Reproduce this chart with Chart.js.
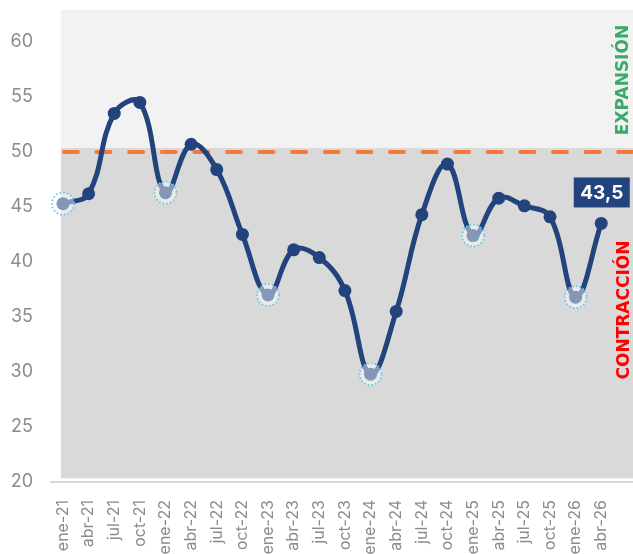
<!DOCTYPE html>
<html>
<head>
<meta charset="utf-8">
<script src="https://cdn.jsdelivr.net/npm/chart.js@4.4.0/dist/chart.umd.min.js"></script>
<style>
  html, body { margin: 0; padding: 0; background: #fff; }
  #wrap { width: 633px; height: 554px; position: relative; overflow: hidden; }
</style>
</head>
<body>
<div id="wrap"><canvas id="pmiChart"></canvas></div>
<script>
// Quarterly index values
const labels = ['ene-21','abr-21','jul-21','oct-21','ene-22','abr-22','jul-22','oct-22',
  'ene-23','abr-23','jul-23','oct-23','ene-24','abr-24','jul-24','oct-24',
  'ene-25','abr-25','jul-25','oct-25','ene-26','abr-26'];
const values = [45.3, 46.2, 53.5, 54.5, 46.3, 50.7, 48.4, 42.5,
  37.0, 41.1, 40.4, 37.4, 29.8, 35.5, 44.3, 48.9,
  42.4, 45.8, 45.1, 44.1, 36.8, 43.5];
const highlighted = ['ene-21','ene-22','ene-23','ene-24','ene-25','ene-26'];
const yTicks = [20, 25, 30, 35, 40, 45, 50, 55, 60];
const threshold = 50;

const NAVY = '#22437c';
const FONT = 'Inter, "Noto Sans", sans-serif';

// Background bands, threshold line, highlight rings, last-value tag, side texts
const decorPlugin = {
  id: 'decor',
  beforeDatasetsDraw(chart) {
    const { ctx, chartArea, scales: { x, y } } = chart;
    const left = x.getPixelForValue(-0.08);
    const right = chart.width;
    const split = y.getPixelForValue(50.36);
    const bottom = y.getPixelForValue(20.34);
    ctx.save();
    ctx.fillStyle = '#f2f2f2';
    ctx.fillRect(left, chartArea.top, right - left, split - chartArea.top);
    ctx.fillStyle = '#d9d9d9';
    ctx.fillRect(left, split, right - left, bottom - split);

    // axis line continues to the edge
    ctx.fillRect(chartArea.right - 1, chartArea.bottom - 1, right - chartArea.right + 1, 2);

    // dashed 50 line
    const ty = y.getPixelForValue(threshold);
    ctx.strokeStyle = '#f47a3a';
    ctx.lineWidth = 4;
    ctx.lineCap = 'round';
    ctx.setLineDash([14, 18.6]);
    ctx.beginPath();
    ctx.moveTo(left + 3, ty);
    ctx.lineTo(right, ty);
    ctx.stroke();
    ctx.restore();
  },
  afterDatasetsDraw(chart) {
    const { ctx } = chart;
    const meta = chart.getDatasetMeta(0);
    ctx.save();
    // rings on January points
    meta.data.forEach((pt, i) => {
      if (!highlighted.includes(labels[i])) return;
      ctx.beginPath();
      ctx.arc(pt.x, pt.y, 11, 0, Math.PI * 2);
      ctx.fillStyle = 'rgba(255,255,255,0.45)';
      ctx.fill();
      ctx.setLineDash([1.5, 2.2]);
      ctx.lineWidth = 1.8;
      ctx.strokeStyle = '#5bc8e6';
      ctx.stroke();
    });
    ctx.setLineDash([]);

    // last value tag
    const last = meta.data[meta.data.length - 1];
    const txt = values[values.length - 1].toFixed(1).replace('.', ',');
    const bw = 56, bh = 30;
    const bx = last.x - bw / 2 + 0.5, by = last.y - 46;
    ctx.fillStyle = NAVY;
    ctx.fillRect(bx, by, bw, bh);
    ctx.fillStyle = '#fff';
    ctx.font = 'bold 19px ' + FONT;
    ctx.textAlign = 'center';
    ctx.textBaseline = 'middle';
    ctx.fillText(txt, bx + bw / 2, by + bh / 2 + 1);

    // side labels
    ctx.font = 'bold 17px "DejaVu Sans", sans-serif';
    ctx.translate(624, 80);
    ctx.rotate(-Math.PI / 2);
    ctx.fillStyle = '#3aaa6b';
    ctx.fillText('EXPANSIÓN', 0, 0);
    ctx.rotate(Math.PI / 2);
    ctx.translate(1, 230);
    ctx.rotate(-Math.PI / 2);
    ctx.fillStyle = '#ff0000';
    ctx.fillText('CONTRACCIÓN', 0, 0);
    ctx.restore();
  }
};

new Chart(document.getElementById('pmiChart'), {
  type: 'line',
  data: {
    datasets: [{
      data: values.map((v, i) => ({ x: i, y: v })),
      borderColor: NAVY,
      borderWidth: 5,
      tension: 0.4,
      pointRadius: 6.5,
      pointBackgroundColor: NAVY,
      pointBorderWidth: 0,
      pointHoverRadius: 6.5
    }]
  },
  options: {
    responsive: true,
    maintainAspectRatio: false,
    animation: false,
    devicePixelRatio: 1,
    layout: { padding: { top: 10, left: 0, right: 0, bottom: 0 } },
    plugins: {
      legend: { display: false },
      tooltip: { enabled: false }
    },
    scales: {
      x: {
        type: 'linear',
        min: -0.467,
        max: 21.985,
        grid: { display: false },
        border: { display: true, color: '#d9d9d9', width: 2 },
        afterBuildTicks: s => { s.ticks = labels.map((_, i) => ({ value: i })); },
        afterFit: s => { s.height = 72; s.paddingLeft = 0; s.paddingRight = 0; },
        ticks: {
          autoSkip: false,
          minRotation: 90,
          maxRotation: 90,
          padding: 10,
          color: '#8c8c8c',
          font: { family: FONT, size: 16 },
          callback: v => labels[v]
        }
      },
      y: {
        min: 20,
        max: 62.9,
        grid: { display: false, drawTicks: false },
        border: { display: false },
        afterBuildTicks: s => { s.ticks = yTicks.map(v => ({ value: v })); },
        afterFit: s => { s.width = 51; s.paddingTop = 0; s.paddingBottom = 0; },
        ticks: {
          padding: 18,
          color: '#8c8c8c',
          font: { family: FONT, size: 18 }
        }
      }
    }
  },
  plugins: [decorPlugin]
});
</script>
</body>
</html>
